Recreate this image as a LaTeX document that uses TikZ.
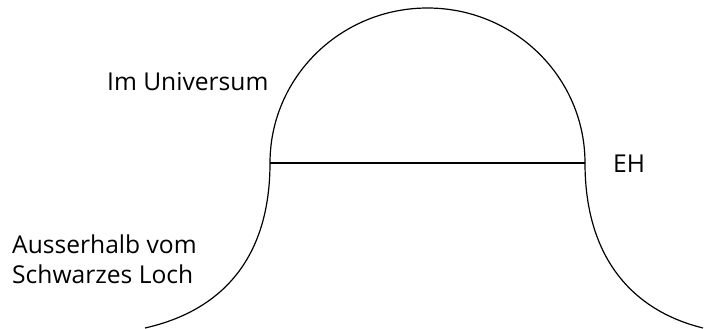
\documentclass[tikz,border=0pt]{standalone}
\usepackage{fontspec}
\setmainfont{Open Sans}
\usetikzlibrary{positioning}
\tikzset{
    curve/.style={
        draw=black,
        line width=1.2pt
    },
    label/.style={
        font=\fontsize{24.6}{30}\selectfont,
        anchor=base west,
        inner sep=0pt,
        align=left
    }
}
\begin{document}
\begin{tikzpicture}[x=1pt, y=-1pt]
        \useasboundingbox (0,0) rectangle (705,329);

        % Horizon end points
        \coordinate (ehL) at (270,163);
        \coordinate (ehR) at (585,163);
        \coordinate (footL) at (145,328);
        \coordinate (footR) at (703,328);

        % Dome above the horizon
        \draw[curve] (ehL) arc[start angle=180, end angle=0, x radius=157.5, y radius=-155];

        % Horizon line
        \draw[curve] (ehL) -- (ehR);

        % Flanks down to the ground
        \draw[curve] (ehL) .. controls (270,255) and (225,310) .. (footL);
        \draw[curve] (ehR) .. controls (585,255) and (630,310) .. (footR);

        % Labels
        \node[label] (universe) at (107,91) {Im Universum};
        \node[label] (eh) at (613,172) {EH};
        \node[label] (outside) at (12,253) {Ausserhalb vom};
        \node[label] (hole) at (12,283) {Schwarzes Loch};
    \end{tikzpicture}
\end{document}
